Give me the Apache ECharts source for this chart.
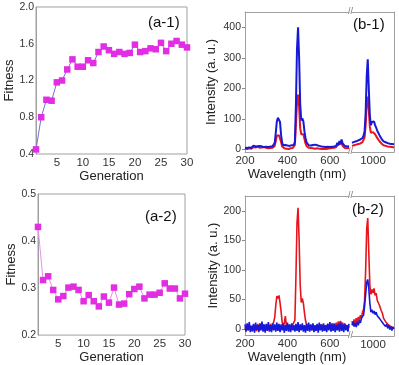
<!DOCTYPE html>
<html><head><meta charset="utf-8">
<script src="https://cdn.jsdelivr.net/npm/echarts@6/dist/echarts.min.js"></script>
<style>html,body{margin:0;padding:0;background:#fff}#c{width:399px;height:365px}</style>
</head><body><div id="c"></div><script>
// ---- Fitness panels ----
const generations = [1,2,3,4,5,6,7,8,9,10,11,12,13,14,15,16,17,18,19,20,21,22,23,24,25,26,27,28,29,30];
const fitnessA1 = [0.45,0.80,0.99,0.98,1.18,1.20,1.32,1.43,1.35,1.35,1.42,1.39,1.51,1.57,1.53,1.49,1.51,1.49,1.50,1.59,1.51,1.52,1.55,1.54,1.61,1.52,1.60,1.63,1.59,1.56];
const fitnessA2 = [0.430,0.317,0.325,0.296,0.276,0.283,0.301,0.303,0.296,0.272,0.285,0.272,0.261,0.282,0.269,0.301,0.265,0.267,0.287,0.298,0.303,0.278,0.286,0.286,0.290,0.310,0.299,0.299,0.278,0.288];
const genTicks = [5,10,15,20,25,30];

// ---- Spectra (broken wavelength axis) ----
const wavelengthLeft = [
 200,205,210,215,220,225,230,235,240,245,
 250,255,260,265,270,275,280,285,290,295,
 300,305,310,315,320,325,330,335,340,345,
 350,355,360,365,370,375,380,385,390,395,
 400,405,410,415,420,425,430,435,440,445,
 450,455,460,465,470,475,480,485,490,495,
 500,505,510,515,520,525,530,535,540,545,
 550,555,560,565,570,575,580,585,590,595,
 600,605,610,615,620,625,630,635,640,645,
 650,655,660,665,670,675,680,685,690];
const wavelengthRight = [
 900,905,910,915,920,925,930,935,940,945,
 950,955,960,965,970,975,980,985,990,995,
 1000,1005,1010,1015,1020,1025,1030,1035,1040,1045,
 1050,1055,1060,1065,1070,1075,1080,1085,1090,1095,
 1100];
const leftTicks = [200,400,600];
const rightTicks = [1000];

// (b-1)
const b1BlueLeft = [
 6,10,5,11,7,12,6,9,13,7,
 10,5,11,8,12,6,10,14,8,12,
 9,13,8,12,10,14,11,16,22,55,
 92,104,98,90,48,22,14,11,15,10,
 13,9,12,10,14,11,15,25,150,330,
 400,300,150,95,102,92,60,38,24,18,
 14,17,13,19,15,20,16,18,14,16,
 12,14,10,13,9,12,8,11,9,12,
 8,11,9,13,10,15,12,22,14,28,
 18,33,20,16,12,15,10,13,11];
const b1RedLeft = [
 3,7,2,8,4,9,3,6,8,2,
 7,4,9,3,6,2,7,4,8,3,
 6,9,4,7,5,8,6,9,12,28,
 45,50,47,42,25,10,7,4,8,3,
 6,2,7,4,8,5,9,15,80,155,
 180,140,70,50,56,50,35,20,12,9,
 6,9,5,8,4,7,3,6,4,7,
 3,6,2,5,3,6,2,5,3,6,
 4,7,5,8,6,10,8,16,10,18,
 12,20,12,8,5,8,4,7,5];
const b1BlueRight = [
 22,18,25,20,27,22,30,26,33,30,
 38,45,60,120,240,295,200,110,80,90,
 85,92,80,72,62,55,48,42,36,32,
 27,30,24,26,21,24,19,22,18,20,
 17];
const b1RedRight = [
 12,8,14,10,16,12,18,14,20,17,
 24,28,40,80,150,173,130,75,55,60,
 57,55,50,44,38,33,28,24,20,17,
 14,16,12,14,10,12,9,11,8,10,
 7];
const b1Ticks = [0,100,200,300,400];

// (b-2)
const b2RedLeft = [
 3,-3,6,-2,8,0,5,-4,7,1,
 4,-3,9,2,-2,6,0,8,2,-3,
 7,1,5,-2,9,3,7,12,20,40,
 56,52,57,45,30,12,5,10,22,6,
 2,7,0,5,3,8,6,15,90,180,
 205,150,75,45,52,44,28,15,8,3,
 7,0,6,-2,8,1,5,-3,7,2,
 6,-1,8,2,5,-2,7,3,9,1,
 6,2,10,3,8,4,11,5,13,6,
 14,7,11,4,8,2,7,1,5];
const b2BlueLeft = [
 8,-4,10,-2,12,-5,6,-3,9,-6,
 11,-1,7,-5,10,-2,13,-4,8,-6,
 9,-3,12,-4,7,-5,10,-2,8,-4,
 11,-3,9,-5,8,-2,10,-6,7,-3,
 11,-4,8,-5,10,-2,7,-4,9,-3,
 12,-5,8,-2,10,-4,7,-6,9,-3,
 11,-4,8,-2,10,-5,7,-3,9,-6,
 11,-2,8,-4,10,-3,7,-5,9,-2,
 12,-4,8,-3,10,-5,7,-2,9,-4,
 11,-3,8,-5,10,-2,7,-4,9];
const b2RedRight = [
 15,8,18,10,20,12,22,15,25,20,
 30,35,50,100,170,188,130,75,60,68,
 62,70,58,62,50,52,42,40,32,28,
 20,22,14,16,10,13,7,10,5,8,
 4];
const b2BlueRight = [
 8,14,6,12,5,14,8,16,12,20,
 18,25,40,60,80,85,70,45,30,34,
 28,32,26,30,24,27,20,22,15,17,
 10,13,6,10,3,8,1,6,-1,5,
 2];
const b2Ticks = [0,50,100,150,200];

const FONT = 'Liberation Sans';
const AX = '#a0a0a0';
const TXT = '#222';
const RED = '#e8141c';
const BLUE = '#1818d8';
const MAG = '#e22ee2';

const zip = (xs, ys) => xs.map((x, i) => [x, ys[i]]);
const f1 = v => v.toFixed(1);
const fi = v => String(v);

function xBottom(grid, min, max, ticks, name, nameGap, showLine) {
  return {type:'value', gridIndex:grid, position:'bottom', min, max,
    axisLine:{show:showLine, onZero:false, lineStyle:{color:AX, width:1}},
    axisTick:{show:false},
    splitLine:{show:false},
    axisLabel:{customValues:ticks, margin:3, fontFamily:FONT, fontSize:11.5, color:'#333', formatter:fi},
    name, nameLocation:'middle', nameGap, nameTextStyle:{fontFamily:FONT, fontSize:13, color:TXT}};
}
function xTop(grid, min, max) {
  return {type:'value', gridIndex:grid, position:'top', min, max,
    axisLine:{show:true, onZero:false, lineStyle:{color:AX, width:1}},
    axisTick:{show:false}, axisLabel:{show:false}, splitLine:{show:false}};
}
function yLeft(grid, min, max, ticks, name, nameGap, margin, fmt, tick) {
  return {type:'value', gridIndex:grid, position:'left', min, max,
    axisLine:{show:true, onZero:false, lineStyle:{color:AX, width:1}},
    axisTick:{show:tick, length:3, customValues:ticks, lineStyle:{color:'#888'}},
    splitLine:{show:false},
    axisLabel:{customValues:ticks, margin, fontFamily:FONT, fontSize:10.5, color:'#333', formatter:fmt},
    name, nameLocation:'middle', nameGap, nameTextStyle:{fontFamily:FONT, fontSize:13, color:TXT}};
}
function yRight(grid, min, max) {
  return {type:'value', gridIndex:grid, position:'right', min, max,
    axisLine:{show:true, onZero:false, lineStyle:{color:AX, width:1}},
    axisTick:{show:false}, axisLabel:{show:false}, splitLine:{show:false}};
}
function spec(x, y, data, color, w) {
  return {type:'line', xAxisIndex:x, yAxisIndex:y, data, showSymbol:false, symbol:'none',
    lineStyle:{color, width:w}, itemStyle:{color}, animation:false, silent:true};
}
function fit(x, y, data, lineColor) {
  return {type:'line', xAxisIndex:x, yAxisIndex:y, data, symbol:'rect', symbolSize:6.5,
    itemStyle:{color:MAG}, lineStyle:{color:lineColor, width:1}, animation:false, silent:true};
}

const option = {
  backgroundColor:'#fff',
  animation:false,
  grid:[
    {left:36, top:7, width:151, height:147, show:true, borderColor:AX, borderWidth:1},
    {left:38, top:194, width:147, height:144, show:true, borderColor:AX, borderWidth:1},
    {left:245, top:12, width:104, height:140},
    {left:352, top:12, width:42, height:140},
    {left:245, top:196, width:104, height:140},
    {left:352, top:196, width:42, height:140}
  ],
  xAxis:[
    xBottom(0, 1, 30, genTicks, 'Generation', 11, false),
    xBottom(1, 1, 30, genTicks, 'Generation', 12, false),
    xBottom(2, 200, 690, leftTicks, 'Wavelength (nm)', 13, true),
    xTop(2, 200, 690),
    xBottom(3, 900, 1100, rightTicks, '', 13, true),
    xTop(3, 900, 1100),
    xBottom(4, 200, 690, leftTicks, 'Wavelength (nm)', 13, true),
    xTop(4, 200, 690),
    xBottom(5, 900, 1100, rightTicks, '', 13, true),
    xTop(5, 900, 1100)
  ],
  yAxis:[
    Object.assign(yLeft(0, 0.4, 2.0, [0.4,0.8,1.2,1.6,2.0], 'Fitness', 17, 2, f1, false), {interval:0.4}),
    Object.assign(yLeft(1, 0.2, 0.5, [0.2,0.3,0.4,0.5], 'Fitness', 19, 2, f1, false), {interval:0.1}),
    yLeft(2, -8, 450, b1Ticks, 'Intensity (a. u.)', 27, 4, fi, true),
    yRight(3, -8, 450),
    yLeft(4, -10, 225, b2Ticks, 'Intensity (a. u.)', 24, 4, fi, true),
    yRight(5, -10, 225)
  ],
  series:[
    fit(0, 0, zip(generations, fitnessA1), '#7070d8'),
    fit(1, 1, zip(generations, fitnessA2), '#e890e8'),
    spec(2, 2, zip(wavelengthLeft, b1RedLeft), RED, 2),
    spec(2, 2, zip(wavelengthLeft, b1BlueLeft), BLUE, 2),
    spec(4, 3, zip(wavelengthRight, b1RedRight), RED, 2),
    spec(4, 3, zip(wavelengthRight, b1BlueRight), BLUE, 2),
    spec(6, 4, zip(wavelengthLeft, b2RedLeft), RED, 1.6),
    spec(6, 4, zip(wavelengthLeft, b2BlueLeft), BLUE, 1.6),
    spec(8, 5, zip(wavelengthRight, b2RedRight), RED, 1.6),
    spec(8, 5, zip(wavelengthRight, b2BlueRight), BLUE, 1.6)
  ],
  graphic:[
    {type:'text', x:148, y:23, style:{text:'(a-1)', fontFamily:FONT, fontSize:15, fill:'#111', verticalAlign:'middle'}},
    {type:'text', x:145, y:217, style:{text:'(a-2)', fontFamily:FONT, fontSize:15, fill:'#111', verticalAlign:'middle'}},
    {type:'text', x:353, y:25, style:{text:'(b-1)', fontFamily:FONT, fontSize:15, fill:'#111', verticalAlign:'middle'}},
    {type:'text', x:352, y:210, style:{text:'(b-2)', fontFamily:FONT, fontSize:15, fill:'#111', verticalAlign:'middle'}},
    {type:'text', x:350.5, y:12, style:{text:'//', fontFamily:FONT, fontSize:9, fill:'#777', align:'center', verticalAlign:'middle'}},
    {type:'text', x:350.5, y:152, style:{text:'//', fontFamily:FONT, fontSize:9, fill:'#777', align:'center', verticalAlign:'middle'}},
    {type:'text', x:350.5, y:196, style:{text:'//', fontFamily:FONT, fontSize:9, fill:'#777', align:'center', verticalAlign:'middle'}},
    {type:'text', x:350.5, y:336, style:{text:'//', fontFamily:FONT, fontSize:9, fill:'#777', align:'center', verticalAlign:'middle'}}
  ]
};
const chart = echarts.init(document.getElementById('c'), null, {renderer:'canvas'});
chart.setOption(option);
</script></body></html>
